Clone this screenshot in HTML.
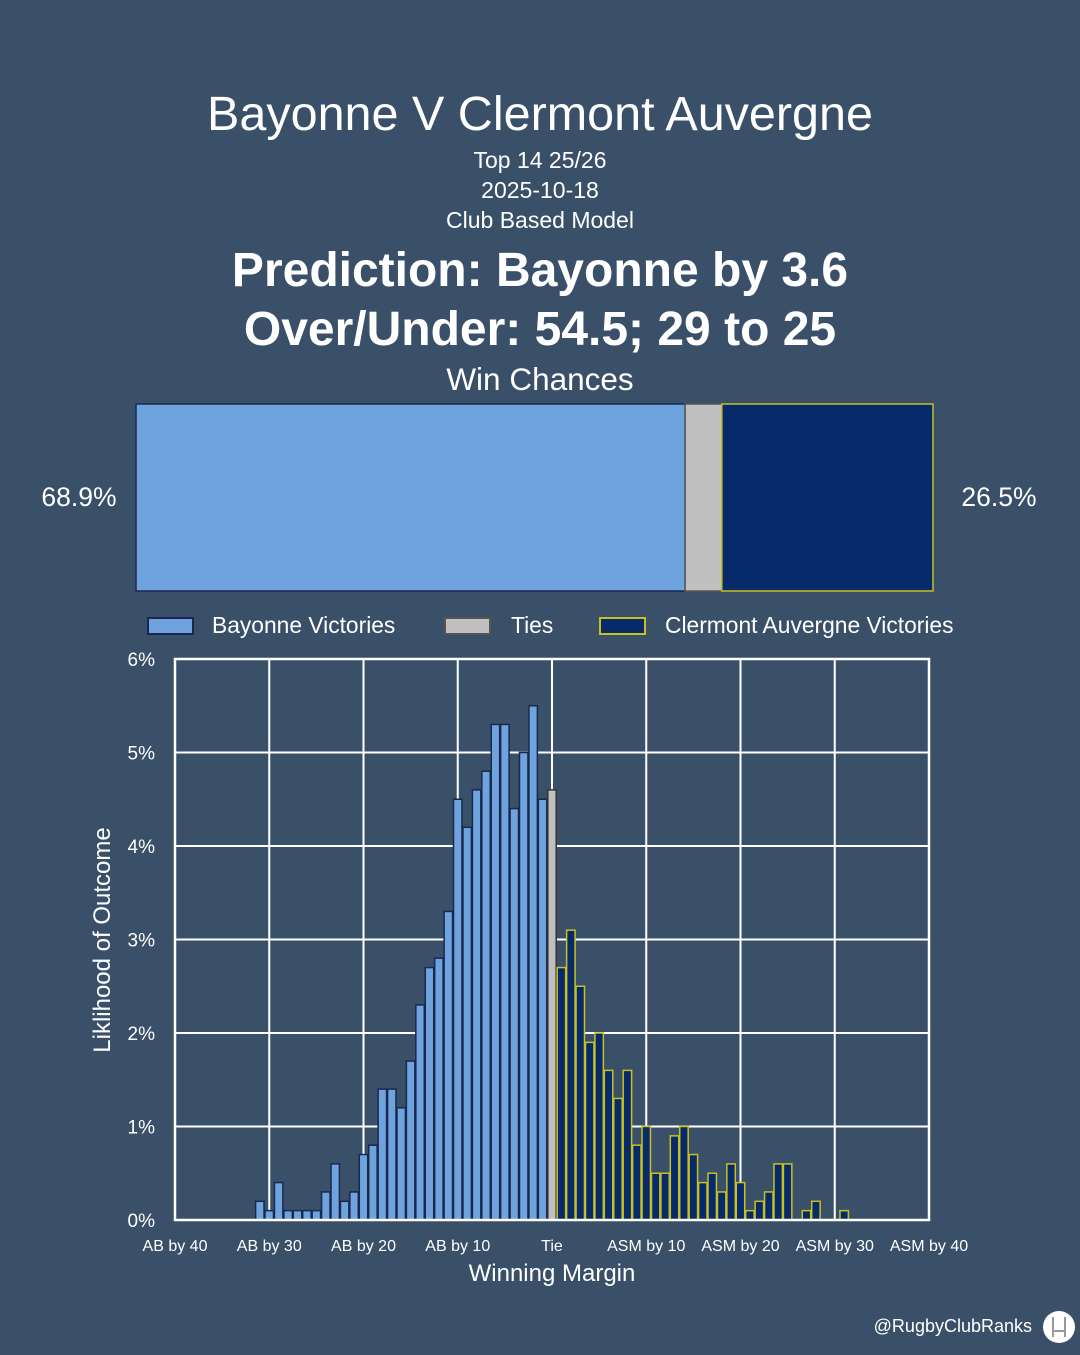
<!DOCTYPE html>
<html><head><meta charset="utf-8"><style>
body{margin:0;width:1080px;height:1350px;background:#3a5068;overflow:hidden;font-family:"Liberation Sans",sans-serif;}
svg text{font-family:"Liberation Sans",sans-serif;}
</style></head><body>
<svg id="c" width="1080" height="1350" xmlns="http://www.w3.org/2000/svg">
<rect width="1080" height="1350" fill="#3a5068"/>
<text x="540" y="130" fill="#fff" font-size="48.5" text-anchor="middle">Bayonne V Clermont Auvergne</text>
<text x="540" y="168" fill="#fff" font-size="23" text-anchor="middle">Top 14 25/26</text>
<text x="540" y="198" fill="#fff" font-size="23" text-anchor="middle">2025-10-18</text>
<text x="540" y="228" fill="#fff" font-size="23" text-anchor="middle">Club Based Model</text>
<text x="540" y="286" fill="#fff" font-size="48" font-weight="bold" text-anchor="middle">Prediction: Bayonne by 3.6</text>
<text x="540" y="345" fill="#fff" font-size="48" font-weight="bold" text-anchor="middle">Over/Under: 54.5; 29 to 25</text>
<text x="540" y="390" fill="#fff" font-size="31.5" text-anchor="middle">Win Chances</text>
<g id="wc"></g>
<text x="79" y="506" fill="#fff" font-size="26.5" text-anchor="middle">68.9%</text>
<text x="999" y="506" fill="#fff" font-size="26.5" text-anchor="middle">26.5%</text>
<g>
<rect x="148" y="618" width="45" height="16" fill="#6fa3de" stroke="#1a2850" stroke-width="2"/>
<text x="212" y="633" fill="#fff" font-size="22.8">Bayonne Victories</text>
<rect x="445" y="618" width="45" height="16" fill="#c0c0c0" stroke="#555" stroke-width="2"/>
<text x="511" y="633" fill="#fff" font-size="22.8">Ties</text>
<rect x="600" y="618" width="45" height="16" fill="#062a6a" stroke="#c8c020" stroke-width="2"/>
<text x="665" y="633" fill="#fff" font-size="22.8">Clermont Auvergne Victories</text>
</g>
<g id="grid"></g>
<g id="bars"></g>
<rect x="175" y="659" width="754" height="561" fill="none" stroke="#fff" stroke-width="2.5"/>
<g id="ticks"></g>
<text x="552" y="1281" fill="#fff" font-size="24" text-anchor="middle">Winning Margin</text>
<text transform="translate(110,940) rotate(-90)" fill="#fff" font-size="24" text-anchor="middle">Liklihood of Outcome</text>
<text x="1032" y="1332" fill="#fff" font-size="18" text-anchor="end">@RugbyClubRanks</text>
<circle cx="1059" cy="1327" r="16" fill="#fff"/>
<path d="M1053 1317v20M1065 1317v20M1053 1331h12" stroke="#999" stroke-width="2" fill="none"/>
</svg>
<script>
const winLabels=["Bayonne","Tie","Clermont Auvergne"];
const winPct=[68.9,4.6,26.5];
const bayMargins=[-31,-30,-29,-28,-27,-26,-25,-24,-23,-22,-21,-20,-19,-18,-17,-16,-15,-14,-13,-12,-11,-10,-9,-8,-7,-6,-5,-4,-3,-2,-1];
const bayValues=[0.2,0.1,0.4,0.1,0.1,0.1,0.1,0.3,0.6,0.2,0.3,0.7,0.8,1.4,1.4,1.2,1.7,2.3,2.7,2.8,3.3,4.5,4.2,4.6,4.8,5.3,5.3,4.4,5.0,5.5,4.5];
const tieValue=[4.6];
const asmMargins=[1,2,3,4,5,6,7,8,9,10,11,12,13,14,15,16,17,18,19,20,21,22,23,24,25,27,28,31];
const asmValues=[2.7,3.1,2.5,1.9,2.0,1.6,1.3,1.6,0.8,1.0,0.5,0.5,0.9,1.0,0.7,0.4,0.5,0.3,0.6,0.4,0.1,0.2,0.3,0.6,0.6,0.1,0.2,0.1];
const xTicks=[-40,-30,-20,-10,0,10,20,30,40];
const xTickLabels=["AB by 40","AB by 30","AB by 20","AB by 10","Tie","ASM by 10","ASM by 20","ASM by 30","ASM by 40"];
const yTicks=[0,1,2,3,4,5,6];
const yTickLabels=["0%","1%","2%","3%","4%","5%","6%"];

const NS="http://www.w3.org/2000/svg";
const x=m=>552+(m)*754/80;
const y=v=>1220-v*561/6;
function mk(t,a,p){const e=document.createElementNS(NS,t);for(const k in a)e.setAttribute(k,a[k]);p.appendChild(e);return e;}

const wc=document.getElementById('wc');
const wx=p=>136+p*(933-136)/100;
const wFill=["#6fa3de","#c0c0c0","#062a6a"],wStroke=["#1a2850","#555","#c8c020"];
let acc=0;
winPct.forEach((p,i)=>{
 const r=mk('rect',{x:wx(acc),y:404,width:wx(acc+p)-wx(acc),height:187,fill:wFill[i],stroke:wStroke[i],'stroke-width':1.5},wc);
 
 
 acc+=p;
});

const g=document.getElementById('grid'),tk=document.getElementById('ticks');
xTicks.forEach((m,i)=>{
 const l=mk('line',{x1:x(m),x2:x(m),y1:659,y2:1220,stroke:'#fff','stroke-width':2},g);
 
 
 const t=mk('text',{x:x(m),y:1251,fill:'#fff','font-size':16,'text-anchor':'middle'},tk);
 
 
 t.textContent=xTickLabels[i];
});
yTicks.forEach((v,i)=>{
 const l=mk('line',{x1:175,x2:929,y1:y(v),y2:y(v),stroke:'#fff','stroke-width':2},g);
 
 
 const t=mk('text',{x:155,y:y(v)+7,fill:'#fff','font-size':19,'text-anchor':'end'},tk);
 
 
 t.textContent=yTickLabels[i];
});

const b=document.getElementById('bars');
const bw=754/80;
function bar(m,v,fill,stroke,name){
 const r=mk('rect',{x:x(m)-bw/2+0.5,y:y(v),width:bw-1,height:1220-y(v),fill:fill,stroke:stroke,'stroke-width':1.5},b);
 
 
}
bayMargins.forEach((m,i)=>bar(m,bayValues[i],'#6fa3de','#1a2850','bar-bayonne'));
bar(0,tieValue[0],'#c0c0c0','#333','bar-tie');
asmMargins.forEach((m,i)=>bar(m,asmValues[i],'#062a6a','#c8c020','bar-clermont'));
</script>
</body></html>
